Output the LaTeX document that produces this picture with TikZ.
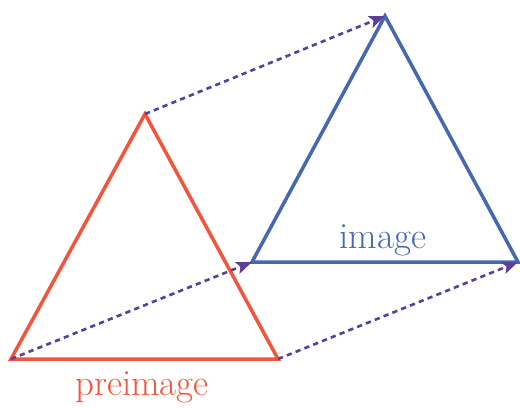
\documentclass[tikz,border=0pt]{standalone}
\usepackage{xcolor}
\usepackage{tikz}
\usetikzlibrary{arrows.meta,positioning,calc}
\definecolor{preRed}{HTML}{F2553D}
\definecolor{imgBlue}{HTML}{4668AE}
\definecolor{mapPurple}{HTML}{5B3F9C}

\begin{document}
\begin{tikzpicture}[x=0.02cm, y=-0.02cm, >={Stealth[length=9pt,width=7pt,inset=2pt]},
  side/.style={line width=2pt, line join=miter},
  map/.style={mapPurple, line width=1.5pt, dash pattern=on 3pt off 2.4pt, ->},
  lbl/.style={font=\fontsize{21}{25}\selectfont}]
\useasboundingbox (0,0) rectangle (520,407);
% --- preimage ---
\coordinate (A) at (11,359);
\coordinate (B) at (278,359);
\coordinate (C) at (145,114);
\draw[side,preRed] (A)--(B)--(C)--cycle;
\node[lbl,preRed] (pre) at (142,387) {preimage};
% --- image ---
\coordinate (A') at (252,262);
\coordinate (B') at (518,262);
\coordinate (C') at (385,16);
\draw[side,imgBlue] (A')--(B')--(C')--cycle;
\node[lbl,imgBlue] (img) at (383,240) {image};
% translation
\draw[map] (A)--(A');
\draw[map] (B)--(B');
\draw[map] (C)--(C');
\end{tikzpicture}
\end{document}
